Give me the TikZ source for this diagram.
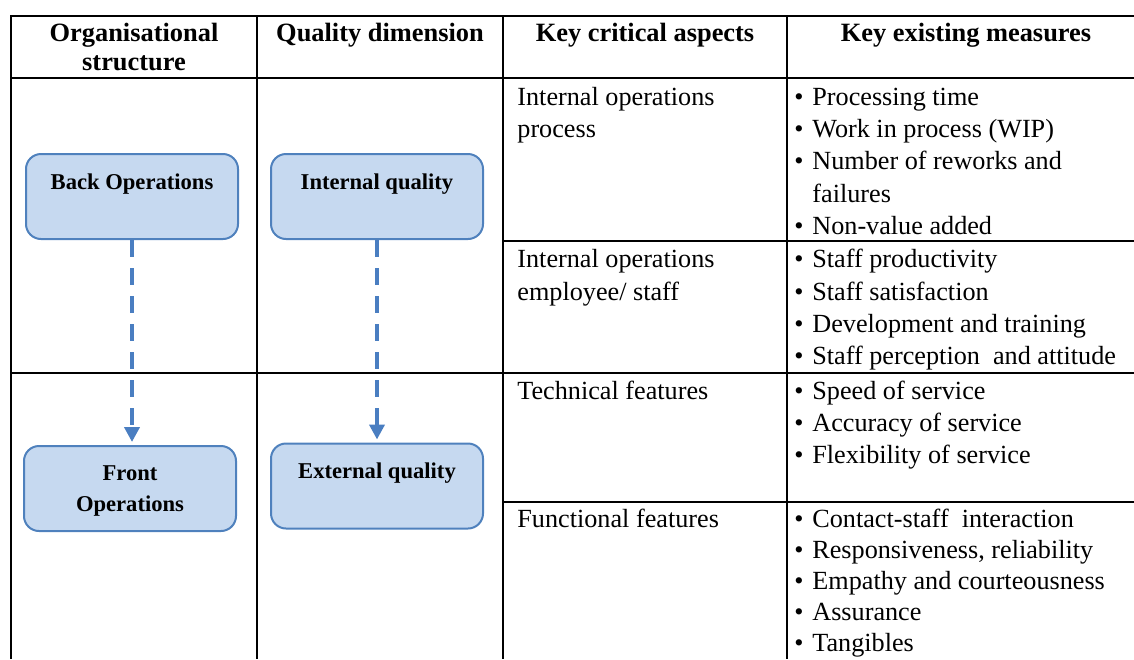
\documentclass[tikz,border=0pt]{standalone}
\usepackage{fontspec}
\setmainfont{Liberation Serif}
\usetikzlibrary{positioning}
\usetikzlibrary{arrows.meta}
\definecolor{QBoxFill}{RGB}{198,217,240}
\definecolor{QBoxLine}{RGB}{79,129,189}
\definecolor{QArrow}{RGB}{74,126,193}
\newcommand{\celllist}[1]{\begin{tabular}[t]{@{}l@{}}#1\end{tabular}}
\newcommand{\mbul}{\makebox[9pt][l]{\textbullet}}

\begin{document}
\begin{tikzpicture}[x=0.5pt,y=-0.5pt,
	grid/.style={line width=1pt,black},
	opbox/.style={draw=QBoxLine,line width=1pt,fill=QBoxFill,rounded corners=7.5pt,minimum width=106pt,minimum height=42.5pt,inner sep=0pt},
	optext/.style={anchor=base,font=\fontsize{11.3}{15.5}\selectfont\bfseries,inner sep=0pt},
	headtext/.style={anchor=base,font=\fontsize{13.2}{14.5}\selectfont\bfseries,inner sep=0pt},
	celltext/.style={anchor=base west,font=\fontsize{13.1}{16.2}\selectfont,inner sep=0pt},
	flow/.style={QArrow,line width=2pt,dash pattern=on 8.5pt off 5.5pt,shorten >=1.5pt,-{Triangle[width=7.5pt,length=7.5pt]}}]
	\useasboundingbox (0,0) rectangle (1134,659);

	\draw[grid] (11,15.7) -- (1134,15.7);
	\draw[grid] (11,78) -- (1134,78);
	\draw[grid] (503,240.7) -- (1134,240.7);
	\draw[grid] (11,373) -- (1134,373);
	\draw[grid] (503,502) -- (1134,502);
	\foreach \x in {11,257,503,787}
		\draw[grid] (\x,15.2) -- (\x,659);

	\node[headtext] (hOrg) at (134,41.7) {\begin{tabular}[t]{@{}c@{}}Organisational\\structure\end{tabular}};
	\node[headtext] (hQual) at (380,41.7) {Quality dimension};
	\node[headtext] (hAsp) at (645,41.7) {Key critical aspects};
	\node[headtext] (hMeas) at (966,41.7) {Key existing measures};

	\node[opbox] (back) at (132,196.5) {};
	\node[opbox] (internal) at (377,196.5) {};
	\node[opbox] (front) at (130,488.5) {};
	\node[opbox] (external) at (377,486) {};
	\node[optext] (backtxt) at (132,189.3) {Back Operations};
	\node[optext] (internaltxt) at (377,189.3) {Internal quality};
	\node[optext] (fronttxt) at (130,480.7) {\begin{tabular}[t]{@{}c@{}}Front\\Operations\end{tabular}};
	\node[optext] (externaltxt) at (377,478.3) {External quality};

	\draw[flow] (back.south) -- (back.south |- front.north);
	\draw[flow] (internal.south) -- (internal.south |- external.north);

	\node[celltext] (asp1) at (517,105) {\celllist{Internal operations\\process}};
	\node[celltext] (asp2) at (517,267.7) {\celllist{Internal operations\\employee/ staff}};
	\node[celltext] (asp3) at (517,399) {\celllist{Technical features}};
	\node[celltext] (asp4) at (517,527) {\celllist{Functional features}};

	\node[celltext] (meas1) at (794,105) {\celllist{\mbul Processing time\\\mbul Work in process (WIP)\\\mbul Number of reworks and\\\hspace{9pt}failures\\\mbul Non-value added}};
	\node[celltext] (meas2) at (794,267.7) {\celllist{\mbul Staff productivity\\\mbul Staff satisfaction\\\mbul Development and training\\\mbul Staff perception\ \ and attitude}};
	\node[celltext] (meas3) at (794,399) {\celllist{\mbul Speed of service\\\mbul Accuracy of service\\\mbul Flexibility of service}};
	\node[celltext,font=\fontsize{13.1}{15.5}\selectfont] (meas4) at (794,527) {\celllist{\mbul Contact-staff\ \ interaction\\\mbul Responsiveness, reliability\\\mbul Empathy and courteousness\\\mbul Assurance\\\mbul Tangibles}};
\end{tikzpicture}
\end{document}
